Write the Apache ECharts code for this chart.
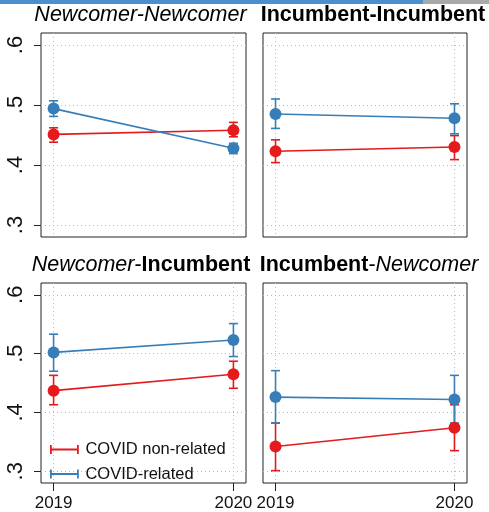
<!DOCTYPE html>
<html>
<head>
<meta charset="utf-8">
<script src="https://cdn.jsdelivr.net/npm/echarts@6/dist/echarts.min.js"></script>
<style>
  html, body { margin: 0; padding: 0; background: #fff; }
  #chart { width: 489px; height: 512px; }
</style>
</head>
<body>
<div id="chart"></div>
<script>
var years = [2019, 2020]
var yTicks = [0.3, 0.4, 0.5, 0.6]
var seriesNames = ['COVID non-related', 'COVID-related']

// panel order: Newcomer-Newcomer, Incumbent-Incumbent, Newcomer-Incumbent, Incumbent-Newcomer
var nonMean = [[0.451, 0.458], [0.423, 0.430], [0.437, 0.465], [0.342, 0.374]]
var nonLo = [[0.438, 0.447], [0.404, 0.409], [0.413, 0.441], [0.301, 0.335]]
var nonHi = [[0.462, 0.471], [0.442, 0.449], [0.463, 0.487], [0.382, 0.413]]
var covMean = [[0.494, 0.428], [0.485, 0.478], [0.502, 0.523], [0.426, 0.422]]
var covLo = [[0.481, 0.419], [0.461, 0.452], [0.470, 0.495], [0.382, 0.382]]
var covHi = [[0.507, 0.436], [0.510, 0.502], [0.533, 0.551], [0.471, 0.463]]

var RED = '#e41a1c'
var BLUE = '#377eb8'
var FONT = 'Liberation Sans, Arial, sans-serif'

var grids = [
  { left: 41, top: 33, width: 205, height: 204 },
  { left: 263, top: 33, width: 204, height: 204 },
  { left: 41, top: 283, width: 205, height: 204 },
  { left: 263, top: 283, width: 204, height: 204 }
]

var dotted = { color: '#b8b8b8', width: 1, type: [1, 3] }

function errRender (params, api) {
  var x = api.value(0)
  var lo = api.coord([x, api.value(1)])
  var hi = api.coord([x, api.value(2)])
  var w = 4.5
  var style = { stroke: api.visual('color'), lineWidth: 1.6 }
  return {
    type: 'group',
    children: [
      { type: 'line', shape: { x1: lo[0], y1: lo[1], x2: hi[0], y2: hi[1] }, style: style },
      { type: 'line', shape: { x1: lo[0] - w, y1: lo[1], x2: lo[0] + w, y2: lo[1] }, style: style },
      { type: 'line', shape: { x1: hi[0] - w, y1: hi[1], x2: hi[0] + w, y2: hi[1] }, style: style }
    ]
  }
}

var xAxes = [], yAxes = [], series = []
grids.forEach(function (g, i) {
  var bottomRow = i >= 2
  var leftCol = i % 2 === 0
  xAxes.push({
    gridIndex: i,
    type: 'value',
    min: 2018.93,
    max: 2020.07,
    axisLine: { show: false },
    axisTick: { show: bottomRow, length: 8, customValues: years, lineStyle: { color: '#222' } },
    axisLabel: {
      show: bottomRow, customValues: years, fontSize: 17, fontFamily: FONT, color: '#111', margin: 12,
      formatter: function (v) { return String(v) }
    },
    splitLine: { show: true, lineStyle: dotted }
  })
  yAxes.push({
    gridIndex: i,
    type: 'value',
    min: 0.28,
    max: 0.62,
    axisLine: { show: false },
    axisTick: { show: leftCol, length: 7, customValues: yTicks, lineStyle: { color: '#222' } },
    axisLabel: {
      show: leftCol, customValues: yTicks, rotate: 90, fontSize: 22, fontFamily: FONT, color: '#111', margin: 14,
      formatter: function (v) { return String(v).replace(/^0/, '') }
    },
    splitLine: { show: true, lineStyle: dotted }
  })
  var sets = [
    [seriesNames[0], RED, nonMean[i], nonLo[i], nonHi[i]],
    [seriesNames[1], BLUE, covMean[i], covLo[i], covHi[i]]
  ]
  sets.forEach(function (s, k) {
    series.push({
      name: s[0],
      type: 'custom',
      xAxisIndex: i,
      yAxisIndex: i,
      renderItem: errRender,
      itemStyle: { color: s[1] },
      z: 2 + k,
      data: years.map(function (y, j) { return [y, s[3][j], s[4][j]] })
    })
    series.push({
      name: s[0],
      type: 'line',
      xAxisIndex: i,
      yAxisIndex: i,
      symbol: 'circle',
      symbolSize: 12,
      color: s[1],
      lineStyle: { width: 1.6, color: s[1] },
      itemStyle: { color: s[1] },
      z: 4 + k,
      animation: false,
      data: years.map(function (y, j) { return [y, s[2][j]] })
    })
  })
})

var titleStyle = {
  i: { fontStyle: 'italic', fontSize: 21.5, fontFamily: FONT, fill: '#000' },
  b: { fontWeight: 'bold', fontSize: 21.5, fontFamily: FONT, fill: '#000' },
  r: { fontSize: 21.5, fontFamily: FONT, fill: '#000' }
}
function titleText (x, y, txt) {
  return {
    type: 'text',
    x: x,
    y: y,
    style: { text: txt, rich: titleStyle, align: 'center', verticalAlign: 'middle' }
  }
}

var chart = echarts.init(document.getElementById('chart'), null, { renderer: 'canvas' })
chart.setOption({
  animation: false,
  backgroundColor: '#fff',
  grid: grids.map(function (g) {
    return Object.assign({ show: true, borderColor: '#222', borderWidth: 1, backgroundColor: 'transparent' }, g)
  }),
  xAxis: xAxes,
  yAxis: yAxes,
  legend: {
    data: [
      { name: seriesNames[0], icon: 'path://M0,0h2v10h-2zM0,4h32v2h-32zM30,0h2v10h-2z' },
      { name: seriesNames[1], icon: 'path://M0,0h2v10h-2zM0,4h32v2h-32zM30,0h2v10h-2z' }
    ],
    orient: 'vertical',
    left: 50,
    top: 441,
    itemWidth: 32,
    itemHeight: 9,
    itemGap: 7.5,
    selectedMode: false,
    textStyle: { fontSize: 16.5, fontFamily: FONT, color: '#111', padding: [0, 0, 0, 0] },
    padding: 0
  },
  graphic: [
    { type: 'rect', shape: { x: 0, y: 0, width: 423, height: 4 }, style: { fill: '#4b8fcd' } },
    { type: 'rect', shape: { x: 423, y: 0, width: 66, height: 4 }, style: { fill: '#a9a9a9' } },
    titleText(140.5, 15, '{i|Newcomer-Newcomer}'),
    titleText(373, 15, '{b|Incumbent-Incumbent}'),
    titleText(141, 265, '{i|Newcomer}{r|-}{b|Incumbent}'),
    titleText(369, 265, '{b|Incumbent}{r|-}{i|Newcomer}')
  ],
  series: series
})
</script>
</body>
</html>
